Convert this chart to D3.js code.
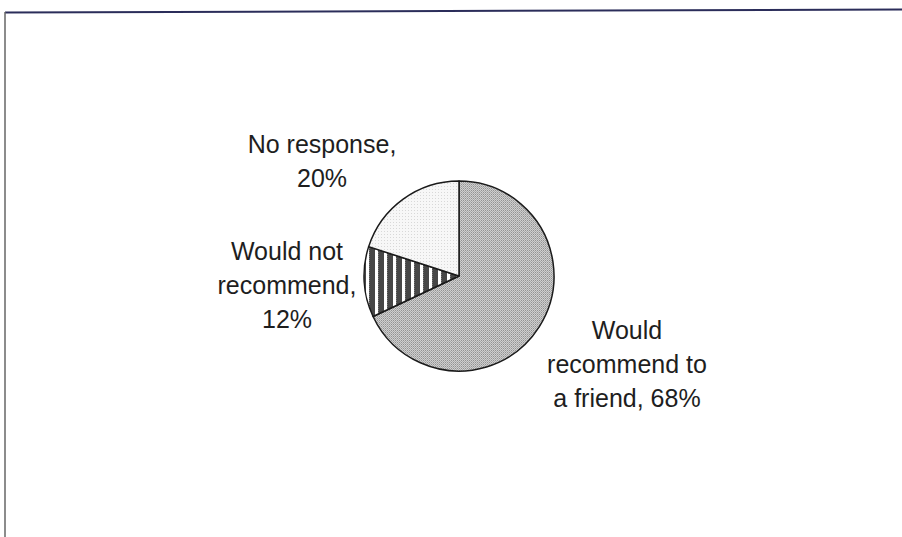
<!DOCTYPE html>
<html>
<head>
<meta charset="utf-8">
<script src="https://cdn.jsdelivr.net/npm/d3@7"></script>
<style>
  html, body { margin: 0; padding: 0; background: #fff; }
  svg { display: block; }
  text { font-family: "Liberation Sans", Arial, sans-serif; fill: #1e1e1e; }
</style>
</head>
<body>
<div id="chart"></div>
<script>
const categories = ["Would recommend to a friend", "Would not recommend", "No response"];
const values = [68, 12, 20];
const labelLines = [
  ["Would", "recommend to", "a friend, 68%"],
  ["Would not", "recommend,", "12%"],
  ["No response,", "20%"]
];

const width = 902;
const height = 537;
const cx = 459, cy = 276, radius = 95;

// where each label block is centred, relative to the pie centre
const labelOffsets = [[168, 88], [-172, 9], [-137, -115]];
const lineHeight = 34;

const svg = d3.select("#chart")
  .append("svg")
  .attr("width", width)
  .attr("height", height);

const defs = svg.append("defs");

// fine grey dot pattern for the big slice
const p1 = defs.append("pattern")
  .attr("id", "pat-rec")
  .attr("width", 2).attr("height", 2)
  .attr("patternUnits", "userSpaceOnUse");
p1.append("rect").attr("width", 2).attr("height", 2).attr("fill", "#cfcfcf");
p1.append("rect").attr("width", 1).attr("height", 1).attr("fill", "#939393");
p1.append("rect").attr("x", 1).attr("y", 1).attr("width", 1).attr("height", 1).attr("fill", "#ababab");

// dark with white vertical stripes
const p2 = defs.append("pattern")
  .attr("id", "pat-not")
  .attr("width", 9).attr("height", 2)
  .attr("patternUnits", "userSpaceOnUse");
p2.append("rect").attr("width", 9).attr("height", 2).attr("fill", "#474747");
p2.append("rect").attr("width", 1).attr("height", 1).attr("fill", "#777");
p2.append("rect").attr("x", 6).attr("width", 3).attr("height", 2).attr("fill", "#fff");

// very light dots
const p3 = defs.append("pattern")
  .attr("id", "pat-none")
  .attr("width", 3).attr("height", 3)
  .attr("patternUnits", "userSpaceOnUse");
p3.append("rect").attr("width", 3).attr("height", 3).attr("fill", "#f7f7f7");
p3.append("rect").attr("width", 1).attr("height", 1).attr("fill", "#d8d8d8");

const fills = ["url(#pat-rec)", "url(#pat-not)", "url(#pat-none)"];

// frame (top and left edges only, as in the scan)
svg.append("line")
  .attr("x1", 5).attr("y1", 12.5).attr("x2", width).attr("y2", 9.5)
  .attr("stroke", "#2b2d5a").attr("stroke-width", 2);
svg.append("line")
  .attr("x1", 5).attr("y1", 12).attr("x2", 5).attr("y2", height)
  .attr("stroke", "#666").attr("stroke-width", 1.5);

const pie = d3.pie().sort(null).value(d => d);
const arc = d3.arc().innerRadius(0).outerRadius(radius);
const arcs = pie(values);

const g = svg.append("g").attr("transform", `translate(${cx},${cy})`);

g.selectAll("path")
  .data(arcs)
  .join("path")
  .attr("d", arc)
  .attr("fill", (d, i) => fills[i])
  .attr("stroke", "#1a1a1a")
  .attr("stroke-width", 1.5)
  .attr("stroke-linejoin", "round");

// labels
arcs.forEach((d, i) => {
  const lines = labelLines[i];
  const [ox, oy] = labelOffsets[i];
  const t = g.append("text")
    .attr("text-anchor", "middle")
    .attr("font-size", 25)
    .attr("aria-label", categories[i]);
  const y0 = oy - (lines.length - 1) * lineHeight / 2 + 9;
  lines.forEach((ln, j) => {
    t.append("tspan")
      .attr("x", ox)
      .attr("y", y0 + j * lineHeight)
      .text(ln);
  });
});
</script>
</body>
</html>
